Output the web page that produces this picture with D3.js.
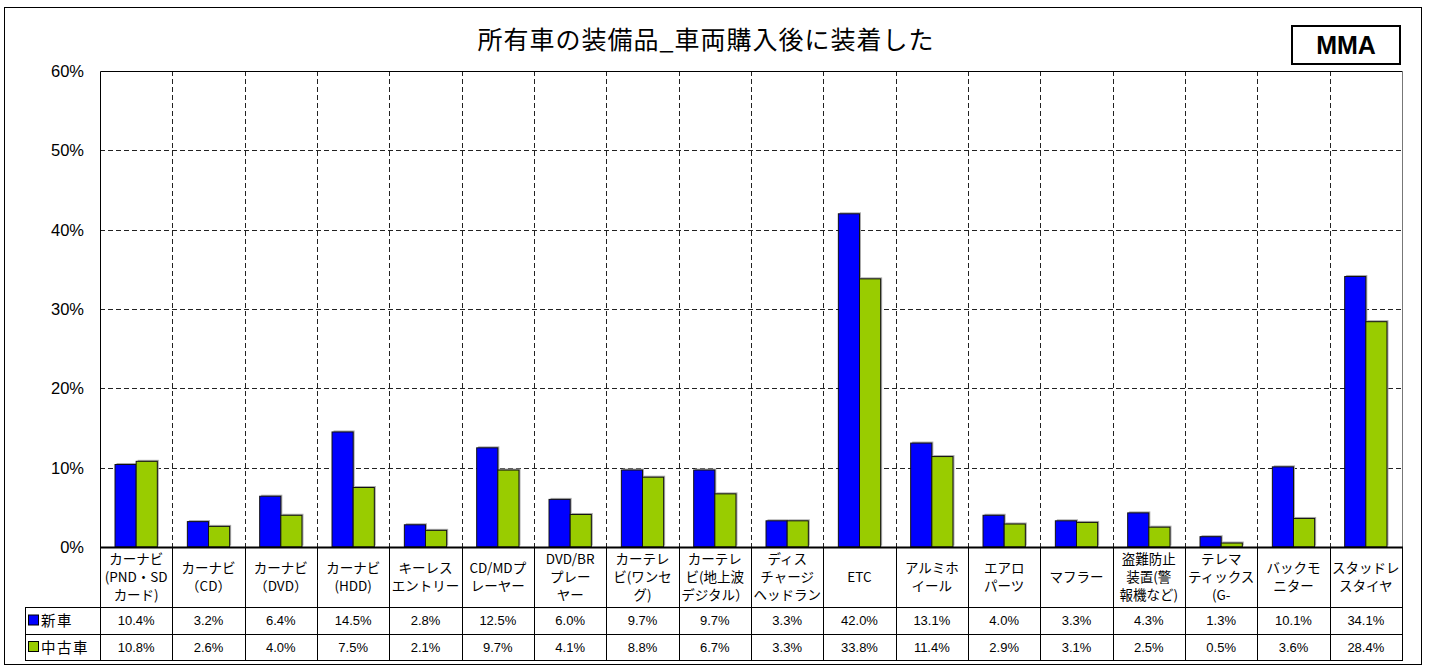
<!DOCTYPE html>
<html>
<head>
<meta charset="utf-8">
<script src="https://cdn.jsdelivr.net/npm/d3@7"></script>
<style>
  html, body { margin: 0; padding: 0; background: #fff; }
  svg { display: block; }
</style>
</head>
<body>
<svg id="chart" width="1431" height="666"></svg>
<script>
// Category labels, split into the lines shown under each group
const categories = [
  ["カーナビ", "(PND・SD", "カード)"],
  ["カーナビ", "（CD）"],
  ["カーナビ", "（DVD）"],
  ["カーナビ", "(HDD)"],
  ["キーレス", "エントリー"],
  ["CD/MDプ", "レーヤー"],
  ["DVD/BR", "プレー", "ヤー"],
  ["カーテレ", "ビ(ワンセ", "グ)"],
  ["カーテレ", "ビ(地上波", "デジタル）"],
  ["ディス", "チャージ", "ヘッドラン"],
  ["ETC"],
  ["アルミホ", "イール"],
  ["エアロ", "パーツ"],
  ["マフラー"],
  ["盗難防止", "装置(警", "報機など)"],
  ["テレマ", "ティックス", "(G-"],
  ["バックモ", "ニター"],
  ["スタッドレ", "スタイヤ"]
];

const seriesNames = ["新車", "中古車"];
const seriesColors = ["#0000ff", "#99cc00"];

// Share of owners (%) who fitted each item after purchase
const newCar  = [10.4, 3.2, 6.4, 14.5, 2.8, 12.5, 6.0, 9.7, 9.7, 3.3, 42.0, 13.1, 4.0, 3.3, 4.3, 1.3, 10.1, 34.1];
const usedCar = [10.8, 2.6, 4.0, 7.5, 2.1, 9.7, 4.1, 8.8, 6.7, 3.3, 33.8, 11.4, 2.9, 3.1, 2.5, 0.5, 3.6, 28.4];

const yTicks = [0, 10, 20, 30, 40, 50, 60];
const titleText = "所有車の装備品_車両購入後に装着した";
const badgeText = "MMA";

const series = [newCar, usedCar];

const svg = d3.select("#chart");
const plot = { left: 100, right: 1402, top: 71, bottom: 547 };
const table = { left: 25, catBottom: 607, row1Bottom: 634, row2Bottom: 660 };
const jpFont = "'Noto Sans CJK JP', 'Noto Sans', sans-serif";
const numFont = "'Liberation Sans', Arial, sans-serif";

// outer frame
svg.append("rect")
  .attr("x", 4.5).attr("y", 7.5)
  .attr("width", 1417).attr("height", 657)
  .attr("fill", "#fff").attr("stroke", "#000").attr("stroke-width", 1);

// title
svg.append("text")
  .attr("x", 706).attr("y", 49)
  .attr("text-anchor", "middle")
  .attr("font-family", jpFont)
  .attr("font-size", 25)
  .attr("letter-spacing", 1)
  .attr("fill", "#000")
  .text(titleText);

// badge
svg.append("rect")
  .attr("x", 1292).attr("y", 26)
  .attr("width", 108).attr("height", 38)
  .attr("fill", "#fff").attr("stroke", "#000").attr("stroke-width", 2);
svg.append("text")
  .attr("x", 1346).attr("y", 54)
  .attr("text-anchor", "middle")
  .attr("font-family", numFont)
  .attr("font-weight", "bold")
  .attr("font-size", 25)
  .text(badgeText);

// scales
const x = d3.scaleBand()
  .domain(d3.range(categories.length))
  .range([plot.left, plot.right])
  .paddingInner(0).paddingOuter(0);

const xs = d3.scaleBand()
  .domain(d3.range(series.length))
  .range([0, x.bandwidth()])
  .paddingInner(0).paddingOuter(0.71);

const y = d3.scaleLinear()
  .domain([0, 60])
  .range([plot.bottom, plot.top]);

// horizontal gridlines
svg.append("g")
  .selectAll("line")
  .data(yTicks.filter(t => t > 0 && t < 60))
  .join("line")
  .attr("x1", plot.left).attr("x2", plot.right)
  .attr("y1", d => Math.round(y(d)) + 0.5)
  .attr("y2", d => Math.round(y(d)) + 0.5)
  .attr("stroke", "#222")
  .attr("stroke-dasharray", "5,3");

// vertical gridlines between categories
svg.append("g")
  .selectAll("line")
  .data(d3.range(1, categories.length))
  .join("line")
  .attr("x1", d => Math.round(x(d)) + 0.5)
  .attr("x2", d => Math.round(x(d)) + 0.5)
  .attr("y1", plot.top).attr("y2", plot.bottom)
  .attr("stroke", "#222")
  .attr("stroke-dasharray", "5,3");

// plot border
svg.append("path")
  .attr("d", `M${plot.left + 0.5},${plot.bottom} V${plot.top + 0.5} H${plot.right + 0.5}`)
  .attr("fill", "none")
  .attr("stroke", "#000");
svg.append("line")
  .attr("x1", plot.right + 0.5).attr("x2", plot.right + 0.5)
  .attr("y1", plot.top).attr("y2", plot.bottom)
  .attr("stroke", "#777");

// bars
const groups = svg.append("g")
  .selectAll("g")
  .data(categories.map((c, i) => i))
  .join("g")
  .attr("transform", i => `translate(${x(i)},0)`);

groups.selectAll("rect.shadow")
  .data(i => series.map((s, k) => ({ k, v: s[i] })))
  .join("rect")
  .attr("class", "shadow")
  .attr("x", d => xs(d.k) + 1.5)
  .attr("y", d => y(d.v) - 1.5)
  .attr("width", xs.bandwidth())
  .attr("height", d => plot.bottom - y(d.v))
  .attr("fill", "#aaa");

groups.selectAll("rect.bar")
  .data(i => series.map((s, k) => ({ k, v: s[i] })))
  .join("rect")
  .attr("class", "bar")
  .attr("x", d => xs(d.k))
  .attr("y", d => y(d.v))
  .attr("width", xs.bandwidth())
  .attr("height", d => plot.bottom - y(d.v))
  .attr("fill", d => seriesColors[d.k])
  .attr("stroke", "#111")
  .attr("stroke-width", 1);

// y axis labels
svg.append("g")
  .selectAll("text")
  .data(yTicks)
  .join("text")
  .attr("x", 84)
  .attr("y", d => y(d) + 6)
  .attr("text-anchor", "end")
  .attr("font-family", numFont)
  .attr("font-size", 16.5)
  .text(d => d + "%");

// baseline
svg.append("line")
  .attr("x1", plot.left).attr("x2", plot.right + 1)
  .attr("y1", plot.bottom + 0.5).attr("y2", plot.bottom + 0.5)
  .attr("stroke", "#000").attr("stroke-width", 2);

// data table grid
const tg = svg.append("g").attr("stroke", "#000").attr("stroke-width", 1);
[table.catBottom, table.row1Bottom, table.row2Bottom].forEach(yy => {
  tg.append("line")
    .attr("x1", table.left).attr("x2", plot.right + 1)
    .attr("y1", yy + 0.5).attr("y2", yy + 0.5);
});
tg.append("line")
  .attr("x1", table.left + 0.5).attr("x2", table.left + 0.5)
  .attr("y1", table.catBottom).attr("y2", table.row2Bottom + 1);
d3.range(0, categories.length + 1).forEach(i => {
  const xx = i < categories.length ? x(i) : plot.right;
  tg.append("line")
    .attr("x1", Math.round(xx) + 0.5).attr("x2", Math.round(xx) + 0.5)
    .attr("y1", plot.bottom).attr("y2", table.row2Bottom + 1);
});

// category labels
const lineH = 18;
const catMid = (plot.bottom + table.catBottom) / 2;
groups.each(function (i) {
  const lines = categories[i];
  const t = d3.select(this).append("text")
    .attr("text-anchor", "middle")
    .attr("font-family", jpFont)
    .attr("font-size", 13.5)
    .attr("fill", "#000");
  lines.forEach((ln, j) => {
    t.append("tspan")
      .attr("x", x.bandwidth() / 2)
      .attr("y", catMid + (j - (lines.length - 1) / 2) * lineH + 5)
      .text(ln);
  });
});

// value rows
const rowTops = [table.catBottom, table.row1Bottom];
const rowBottoms = [table.row1Bottom, table.row2Bottom];
series.forEach((s, k) => {
  const cy = (rowTops[k] + rowBottoms[k]) / 2;
  svg.append("g")
    .selectAll("text")
    .data(s)
    .join("text")
    .attr("x", (d, i) => x(i) + x.bandwidth() / 2)
    .attr("y", cy + 4.5)
    .attr("text-anchor", "middle")
    .attr("font-family", numFont)
    .attr("font-size", 13)
    .text(d => d.toFixed(1) + "%");

  // legend key
  svg.append("rect")
    .attr("x", 28.5).attr("y", cy - 5.5)
    .attr("width", 10).attr("height", 10)
    .attr("fill", seriesColors[k])
    .attr("stroke", "#000");
  svg.append("text")
    .attr("x", 41).attr("y", cy + 5.5)
    .attr("font-family", jpFont)
    .attr("font-size", 14.5)
    .attr("letter-spacing", 1.5)
    .text(seriesNames[k]);
});
</script>
</body>
</html>
